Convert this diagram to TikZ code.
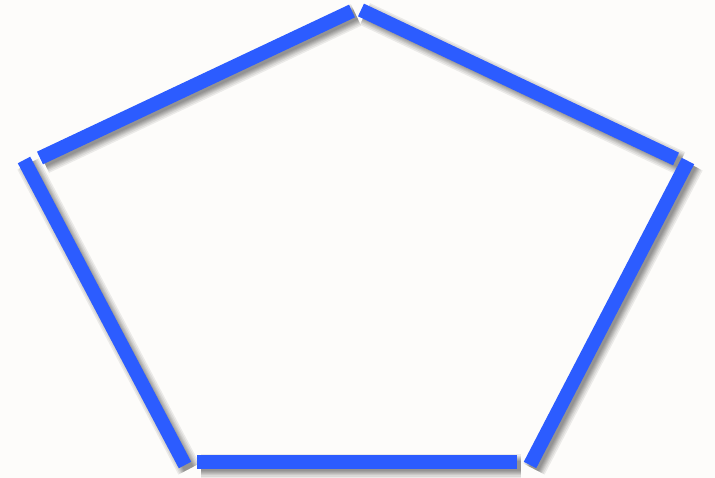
\documentclass[tikz,border=0pt]{standalone}
\definecolor{edgeblue}{RGB}{44,92,255}
\definecolor{paper}{RGB}{253,252,250}
\tikzset{
  edge/.style={line width=14pt, edgeblue, line cap=butt},
  smudge/.style={line width=#1, black, opacity=0.07, line cap=butt},
}
\begin{document}
\begin{tikzpicture}[x=1pt, y=-1pt]
  \fill[paper] (0,0) rectangle (715,478);
  \useasboundingbox (0,0) rectangle (715,478);
  % segment ends
  \coordinate (tlA) at (40,158);
  \coordinate (tlB) at (352,11);
  \coordinate (trA) at (361,10);
  \coordinate (trB) at (676,159);
  \coordinate (rA) at (688,161);
  \coordinate (rB) at (530,465);
  \coordinate (bA) at (197,462);
  \coordinate (bB) at (517,462);
  \coordinate (lA) at (24,160);
  \coordinate (lB) at (185,465);
  % shadow
  \foreach \w in {24pt,21pt,18pt,16pt,14pt,12pt,10pt}
    \foreach \a/\b in {tlA/tlB, trA/trB, rA/rB, bA/bB, lA/lB}
      \draw[smudge=\w] ([shift={(4,4)}]\a) -- ([shift={(4,4)}]\b);
  % edges
  \foreach \a/\b in {tlA/tlB, trA/trB, rA/rB, bA/bB, lA/lB}
    \draw[edge] (\a) -- (\b);
\end{tikzpicture}
\end{document}
